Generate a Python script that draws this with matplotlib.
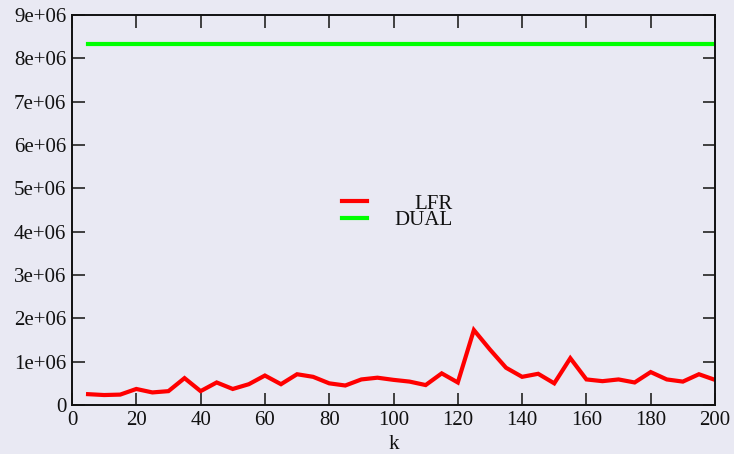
import matplotlib
matplotlib.use("Agg")
import matplotlib.pyplot as plt
from matplotlib.ticker import FuncFormatter, MultipleLocator
from matplotlib.lines import Line2D

plt.rcParams['font.family'] = ['Liberation Serif', 'DejaVu Serif']

k = list(range(5, 201, 5))
lfr = [0.25e6, 0.23e6, 0.24e6, 0.37e6, 0.29e6, 0.32e6, 0.62e6, 0.32e6, 0.52e6, 0.37e6,
       0.48e6, 0.68e6, 0.48e6, 0.71e6, 0.65e6, 0.50e6, 0.45e6, 0.59e6, 0.63e6, 0.58e6,
       0.54e6, 0.46e6, 0.73e6, 0.52e6, 1.73e6, 1.28e6, 0.86e6, 0.65e6, 0.72e6, 0.50e6,
       1.08e6, 0.59e6, 0.55e6, 0.59e6, 0.52e6, 0.76e6, 0.59e6, 0.54e6, 0.71e6, 0.58e6]
dual = [8.33e6] * len(k)
series_names = ["LFR", "DUAL"]

bg = '#e9e9f3'
fs = 15
fig = plt.figure(figsize=(7.34, 4.54), dpi=100, facecolor=bg)
ax = fig.add_axes([72/734, 1 - 405/454, (715 - 72)/734, (405 - 15)/454])
ax.set_facecolor(bg)

ax.plot(k, lfr, color='#ff0000', lw=3.0, solid_joinstyle='miter')
ax.plot(k, dual, color='#00ff00', lw=3.0)

ax.set_xlim(0, 200)
ax.set_ylim(0, 9e6)
ax.xaxis.set_major_locator(MultipleLocator(20))
ax.yaxis.set_major_locator(MultipleLocator(1e6))

def yfmt(v, pos):
    if abs(v) < 1:
        return "0"
    return f"{v:.0e}"

ax.yaxis.set_major_formatter(FuncFormatter(yfmt))
ax.tick_params(direction='in', length=9, width=1.2, top=True, right=True,
               labelsize=fs, color='#222222', labelcolor='#111111', pad=4)
for s in ax.spines.values():
    s.set_linewidth(1.4)
    s.set_color('#111111')

ax.set_xlabel("k", fontsize=fs, labelpad=4, color='#111111')

# key: sample line on the left, label right-justified
colors = ['#ff0000', '#00ff00']
line_y = [201.5, 217.5]
text_base = [209.0, 225.5]
for name, c, yl, yb in zip(series_names, colors, line_y, text_base):
    yf = 1 - yl/454
    fig.add_artist(Line2D([342/734, 367/734], [yf, yf], color=c, lw=3.0,
                          transform=fig.transFigure))
    fig.text(453/734, 1 - yb/454, name, ha='right', va='baseline', fontsize=fs,
             color='#111111')

fig.savefig("out.png", dpi=100, facecolor=bg)
